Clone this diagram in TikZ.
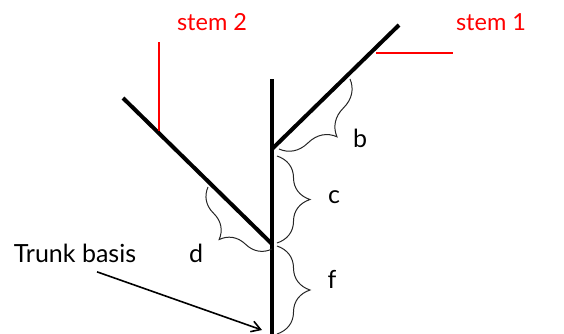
\documentclass[tikz,border=0pt]{standalone}
\usepackage{fontspec}
\setmainfont{Lato}
\usetikzlibrary{decorations.pathreplacing,arrows.meta}
\tikzset{
  stemline/.style={line width=4pt},
  redleader/.style={draw=red, line width=1.2pt},
  bracket/.style={decorate, decoration={brace, amplitude=#1}, line width=1pt, black!85},
  lbl/.style={font=\fontsize{25}{30}\selectfont},
  stemlbl/.style={font=\fontsize{23.5}{28}\selectfont, text=red},
}
\begin{document}
\begin{tikzpicture}[x=1pt, y=-1pt]
  \useasboundingbox (0,0) rectangle (564,333);
  % trunk and the two stems, in pixel units with y pointing down
  \coordinate (trunktop) at (272,79);
  \coordinate (trunkbot) at (272,336);
  \coordinate (fork1) at (272,149);
  \coordinate (fork2) at (272,244);
  \coordinate (tip1) at (399,25);
  \coordinate (tip2) at (123,98);
  \draw[stemline] (trunktop) -- (trunkbot);
  \draw[stemline] (fork1) -- (tip1);
  \draw[stemline] (fork2) -- (tip2);

  % red leaders and their labels
  \node[stemlbl] (stemtwo) at (212,22) {stem 2};
  \node[stemlbl] (stemone) at (491,22) {stem 1};
  \coordinate (on2) at (159,131);
  \coordinate (on1) at (376,53);
  \draw[redleader] (on2) -- ++(0,-89);
  \draw[redleader] (on1) -- ++(77,0);

  % braces along the segments
  \draw[bracket=32] (350,79) -- (279,149);
  \draw[bracket=33] (277,156) -- (277,243);
  \draw[bracket=33] (277,246) -- (277,334);
  \draw[bracket=30] (272,249) -- (208,187);
  \node[lbl] (b) at (360,138) {b};
  \node[lbl] (c) at (334,197) {c};
  \node[lbl] (f) at (332,279) {f};
  \node[lbl] (d) at (196,253) {d};

  \node[lbl] (basis) at (75,253) {Trunk basis};
  \coordinate (trunkfoot) at (262,330);
  \draw[line width=1.6pt, -{Straight Barb[length=9pt, width=11pt]}]
    ([xshift=22pt, yshift=-6pt]basis.south) -- (trunkfoot);
\end{tikzpicture}
\end{document}
